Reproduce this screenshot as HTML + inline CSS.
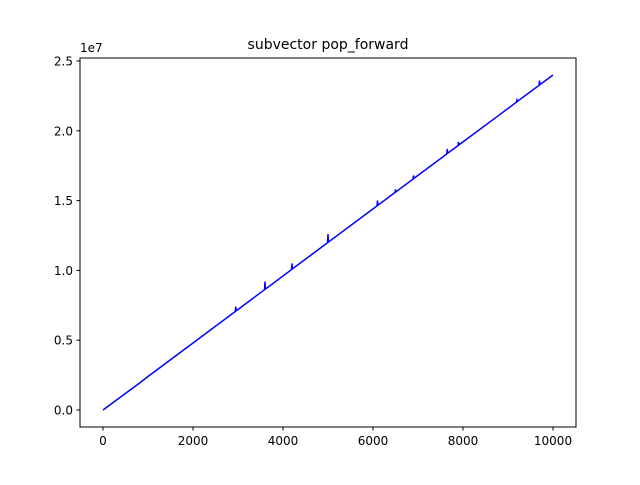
<!DOCTYPE html>
<html><head><meta charset="utf-8"><style>
body{margin:0;background:#fff;}
svg{font-family:"DejaVu Sans","Liberation Sans",sans-serif;}
</style></head><body>
<svg id="chart" width="640" height="480">
<rect width="640" height="480" fill="#fff"/>
<text x="328" y="49" text-anchor="middle" font-size="14">subvector pop_forward</text>
<text x="80" y="52" font-size="12">1e7</text>
<g id="ticks"></g>
<polyline id="line" fill="none" stroke="#0000ff" stroke-width="1.5"/>
<rect x="80" y="58" width="496" height="369" fill="none" stroke="#000" stroke-width="1"/>
</svg>
<script>
const xTicks=[0,2000,4000,6000,8000,10000];
const yTicks=[0,0.5,1.0,1.5,2.0,2.5];
const yTickLabels=["0.0","0.5","1.0","1.5","2.0","2.5"];
const xs=[0,800,1000,2000,2940,2950,2960,3590,3600,3610,4190,4200,4210,4990,5000,5010,6090,6100,6110,6490,6500,6510,6890,6900,6910,7640,7650,7660,7890,7900,7910,8800,9190,9200,9210,9690,9700,9710,10000];
const ys=[0,0.19,0.24,0.48,0.706,0.74,0.71,0.862,0.92,0.866,1.006,1.05,1.011,1.198,1.26,1.203,1.462,1.5,1.467,1.558,1.58,1.563,1.654,1.68,1.659,1.834,1.87,1.839,1.894,1.92,1.899,2.112,2.206,2.22,2.211,2.326,2.36,2.331,2.4];
const sx=v=>103+v*0.045;
const sy=v=>410-v*139.6;
const g=document.getElementById('ticks');
const NS='http://www.w3.org/2000/svg';
xTicks.forEach(t=>{
 const l=document.createElementNS(NS,'line');
 l.setAttribute('x1',sx(t));l.setAttribute('x2',sx(t));l.setAttribute('y1',427);l.setAttribute('y2',430.5);l.setAttribute('stroke','#000');
 
 
 g.appendChild(l);
 const tx=document.createElementNS(NS,'text');
 tx.setAttribute('x',sx(t));tx.setAttribute('y',445);tx.setAttribute('text-anchor','middle');tx.setAttribute('font-size','12');
 tx.textContent=t;
 
 
 g.appendChild(tx);
});
yTicks.forEach((t,i)=>{
 const l=document.createElementNS(NS,'line');
 l.setAttribute('x1',76.5);l.setAttribute('x2',80);l.setAttribute('y1',sy(t));l.setAttribute('y2',sy(t));l.setAttribute('stroke','#000');
 
 
 g.appendChild(l);
 const tx=document.createElementNS(NS,'text');
 tx.setAttribute('x',73);tx.setAttribute('y',sy(t)+4.5);tx.setAttribute('text-anchor','end');tx.setAttribute('font-size','12');
 tx.textContent=yTickLabels[i];
 
 
 g.appendChild(tx);
});
document.getElementById('line').setAttribute('points',xs.map((x,i)=>sx(x)+','+sy(ys[i])).join(' '));
</script>
</body></html>
